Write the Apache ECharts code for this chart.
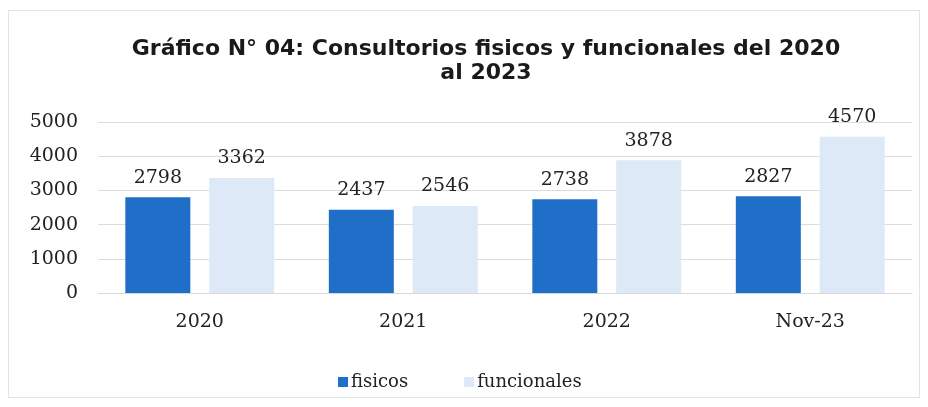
<!DOCTYPE html>
<html><head><meta charset="utf-8">
<script src="https://cdn.jsdelivr.net/npm/echarts@6/dist/echarts.min.js"></script>
<style>html,body{margin:0;padding:0;background:#fff}
#frame{position:absolute;left:8px;top:10px;width:912px;height:388px;border:1px solid #e4e4e4;box-sizing:border-box}
#c{position:absolute;left:0;top:0;width:928px;height:407px}</style>
</head><body><div id="frame"></div><div id="c"></div>
<script>
const categories = ['2020', '2021', '2022', 'Nov-23'];
const fisicos = [2798, 2437, 2738, 2827];
const funcionales = [3362, 2546, 3878, 4570];
const yTicks = [0, 1000, 2000, 3000, 4000, 5000];

const chart = echarts.init(document.getElementById('c'));
const serif = 'DejaVu Serif';
const lbl = {show: true, position: 'top', distance: 10, fontFamily: serif, fontSize: 19, color: '#222'};
chart.setOption({
  animation: false,
  title: {
    text: 'Gráfico N° 04: Consultorios fisicos y funcionales del 2020\nal 2023',
    left: 481, top: 32, textAlign: 'center',
    textStyle: {fontFamily: 'DejaVu Sans', fontWeight: 'bold', fontSize: 22, lineHeight: 24, color: '#1a1a1a'}
  },
  legend: {
    left: 333, top: 368, itemWidth: 10, itemHeight: 10, itemGap: 56,
    icon: 'rect',
    textStyle: {fontFamily: serif, fontSize: 18, color: '#222', padding: [0, 0, 0, -2]},
    data: ['fisicos', 'funcionales']
  },
  grid: {left: 98, right: 16, top: 122, bottom: 114, containLabel: false},
  xAxis: {
    type: 'category', data: categories,
    axisLine: {lineStyle: {color: '#d9d9d9'}}, axisTick: {show: false},
    axisLabel: {fontFamily: serif, fontSize: 19, color: '#222', margin: 20}
  },
  yAxis: {
    type: 'value', min: yTicks[0], max: yTicks[yTicks.length - 1], interval: 1000,
    axisLine: {show: false}, axisTick: {show: false},
    splitLine: {lineStyle: {color: '#dcdcdc'}},
    axisLabel: {fontFamily: serif, fontSize: 19, color: '#222', margin: 20, formatter: v => String(v)}
  },
  series: [
    {name: 'fisicos', type: 'bar', data: fisicos, barWidth: 65, barGap: '29%',
     itemStyle: {color: '#1f6fc8'}, label: lbl},
    {name: 'funcionales', type: 'bar', data: funcionales, barWidth: 65,
     itemStyle: {color: '#dde9f6'}, label: lbl}
  ]
});
</script></body></html>
